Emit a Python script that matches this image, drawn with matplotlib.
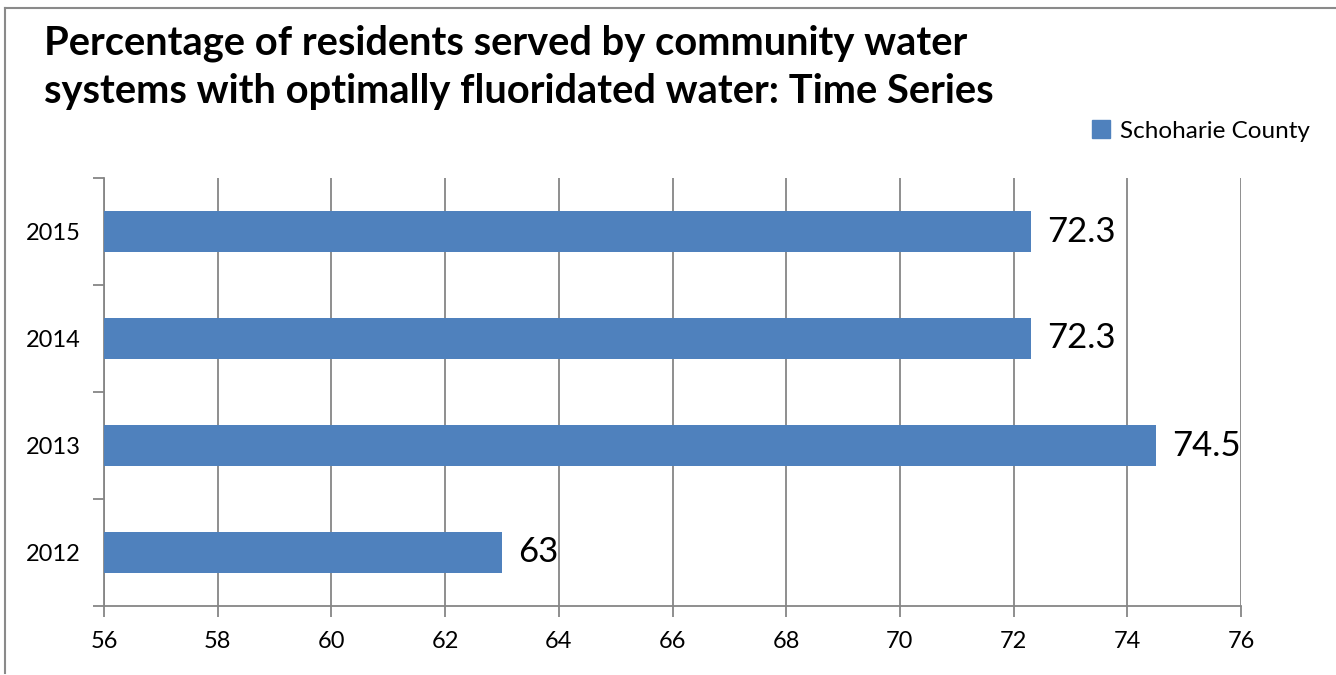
import matplotlib
matplotlib.use("Agg")
import matplotlib.pyplot as plt
from matplotlib.lines import Line2D
from matplotlib.patches import Patch

years = ["2012", "2013", "2014", "2015"]
values = [63, 74.5, 72.3, 72.3]
value_labels = ["63", "74.5", "72.3", "72.3"]
series_name = "Schoharie County"
title = "Percentage of residents served by community water\nsystems with optimally fluoridated water: Time Series"
xticks = [56, 58, 60, 62, 64, 66, 68, 70, 72, 74, 76]

plt.rcParams['font.family'] = ['Lato', 'DejaVu Sans']

W, H = 1336, 675
fig = plt.figure(figsize=(W / 100, H / 100), dpi=100)
ax = fig.add_axes([104 / W, 1 - 606 / H, (1241 - 104) / W, (606 - 178) / H])

bar_color = "#4F81BD"
grid_color = "#868686"
ypos = list(range(len(years)))
ax.barh(ypos, [v - 56 for v in values], left=56, height=0.39, color=bar_color, zorder=3)

ax.set_xlim(56, 76)
ax.set_ylim(-0.5, len(years) - 0.5)
ax.set_xticks(xticks)
ax.set_xticklabels([str(t) for t in xticks], fontsize=17)
ax.tick_params(axis='x', direction='out', length=8, width=1.3, color=grid_color, pad=10)
ax.set_yticks([i - 0.5 for i in range(len(years) + 1)])
ax.set_yticklabels([])
ax.tick_params(axis='y', which='major', direction='out', length=8, width=1.3, color=grid_color)
ax.set_yticks(ypos, minor=True)
ax.set_yticklabels(years, minor=True, fontsize=17)
ax.tick_params(axis='y', which='minor', length=0, pad=17)

ax.grid(axis='x', color=grid_color, linewidth=1.3, zorder=0)
for s in ['top', 'right']:
    ax.spines[s].set_visible(False)
for s in ['left', 'bottom']:
    ax.spines[s].set_color(grid_color)
    ax.spines[s].set_linewidth(1.3)

for y, v, lab in zip(ypos, values, value_labels):
    ax.annotate(lab, (v, y), xytext=(16, 0), textcoords='offset pixels',
                va='center', ha='left', fontsize=25, zorder=4)

fig.text(44 / W, 1 - 25 / H, title, fontsize=28.7, fontweight='bold', va='top', ha='left',
         linespacing=1.34)

leg = fig.legend(handles=[Patch(color=bar_color, label=series_name)],
                 loc='center right', bbox_to_anchor=(1310 / W, 1 - 131 / H),
                 frameon=False, fontsize=17.5, handlelength=0.75, handleheight=0.75,
                 handletextpad=0.4, borderaxespad=0, borderpad=0)

border_color = "#8a8a8a"
fig.add_artist(Line2D([5 / W, 5 / W], [1 - 8 / H, 1 - 673 / H], color=border_color, linewidth=1.5,
                      transform=fig.transFigure))
fig.add_artist(Line2D([5 / W, 1], [1 - 8 / H, 1 - 8 / H], color=border_color, linewidth=1.5,
                      transform=fig.transFigure))

fig.savefig("out.png", dpi=100)
